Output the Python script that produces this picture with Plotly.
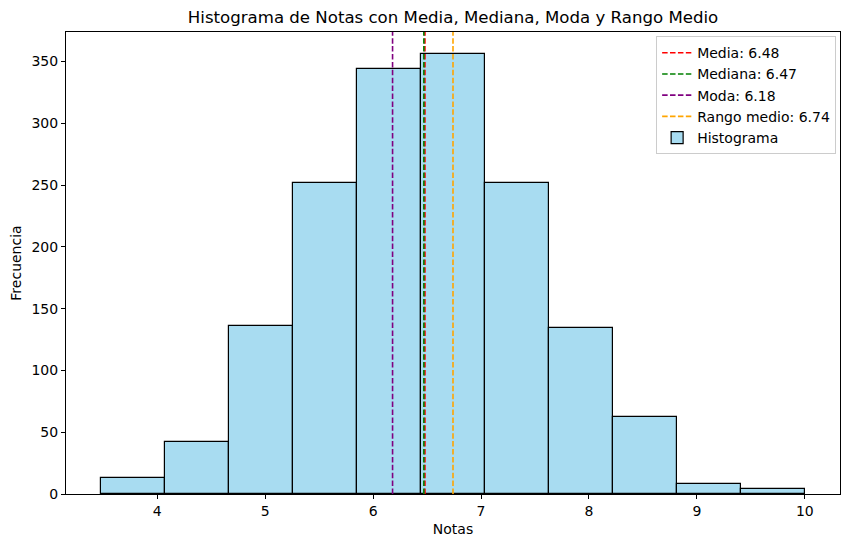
import numpy as np
import plotly.graph_objects as go

# Data
bin_min = 3.48
bin_max = 10.0
counts = [13, 42, 136, 252, 344, 356, 252, 134, 62, 8, 4]
stat_names = ["Media", "Mediana", "Moda", "Rango medio"]
stat_values = [6.48, 6.47, 6.18, 6.74]
stat_colors = ["red", "green", "purple", "orange"]
x_ticks = [4, 5, 6, 7, 8, 9, 10]
y_ticks = [0, 50, 100, 150, 200, 250, 300, 350]

nbins = len(counts)
edges = np.linspace(bin_min, bin_max, nbins + 1)
centers = (edges[:-1] + edges[1:]) / 2
width = edges[1] - edges[0]

fig = go.Figure()
fig.add_trace(go.Bar(
    x=centers, y=counts, width=[width] * nbins,
    marker=dict(color="rgba(135,206,235,0.72)", line=dict(color="black", width=1.2)),
    name="Histograma", legendrank=5,
))
for i, (n, v, c) in enumerate(zip(stat_names, stat_values, stat_colors)):
    fig.add_trace(go.Scatter(
        x=[v, v], y=[0, 1], yaxis="y2", mode="lines",
        line=dict(color=c, width=1.6, dash="5.5px,2.4px"),
        name=f"{n}: {v:.2f}", legendrank=i + 1,
    ))

L, R, T, B = 66, 10, 32, 53
xr = bin_max - bin_min
ymax = max(counts) * 1.05
fig.update_layout(
    width=850, height=547,
    margin=dict(l=L, r=R, t=T, b=B),
    plot_bgcolor="white", paper_bgcolor="white",
    font=dict(family="DejaVu Sans", size=14, color="black"),
    title=dict(text="Histograma de Notas con Media, Mediana, Moda y Rango Medio",
               x=(L + (850 - L - R) / 2) / 850, xanchor="center", y=1 - 17 / 547, yanchor="middle",
               font=dict(size=16.6)),
    bargap=0,
    showlegend=True,
    legend=dict(x=0.995, y=0.991, xanchor="right", yanchor="top",
                bgcolor="rgba(255,255,255,0.8)", bordercolor="#cccccc", borderwidth=1,
                font=dict(size=14), traceorder="normal", tracegroupgap=0,
                itemwidth=30),
    xaxis=dict(range=[bin_min - 0.05 * xr, bin_max + 0.05 * xr],
               tickvals=x_ticks, ticks="outside", ticklen=4, tickcolor="black",
               showline=True, linecolor="black", linewidth=1, mirror=True,
               showgrid=False, zeroline=False,
               title=dict(text="Notas", font=dict(size=14), standoff=6)),
    yaxis=dict(range=[0, ymax], tickvals=y_ticks, ticks="outside", ticklen=4, tickcolor="black",
               showline=True, linecolor="black", linewidth=1, mirror=True,
               showgrid=False, zeroline=False,
               title=dict(text="Frecuencia", font=dict(size=14), standoff=6)),
    yaxis2=dict(overlaying="y", range=[0, 1], visible=False, fixedrange=True),
)

fig.write_html("out.html")
